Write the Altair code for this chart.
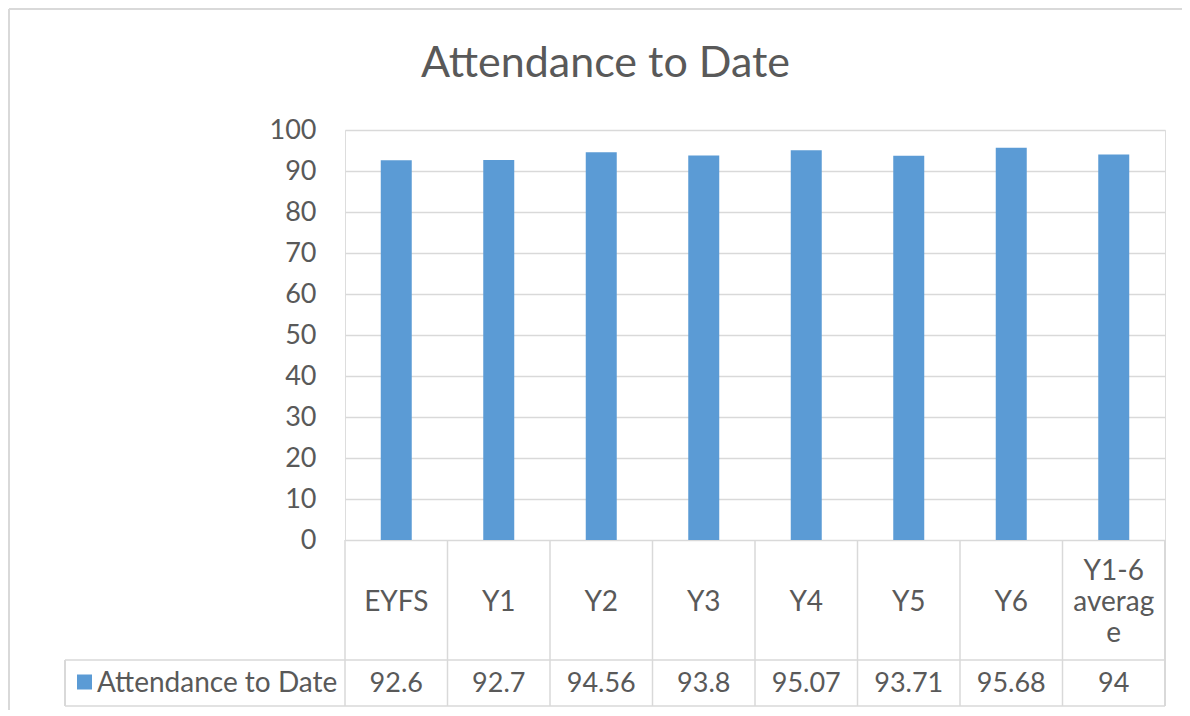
import altair as alt
import pandas as pd

title_text = "Attendance to Date"
categories = ["EYFS", "Y1", "Y2", "Y3", "Y4", "Y5", "Y6", "Y1-6 average"]
cell_labels = ["EYFS", "Y1", "Y2", "Y3", "Y4", "Y5", "Y6", "Y1-6\naverag\ne"]
values = [92.6, 92.7, 94.56, 93.8, 95.07, 93.71, 95.68, 94]
series_name = "Attendance to Date"
y_ticks = [0, 10, 20, 30, 40, 50, 60, 70, 80, 90, 100]

df = pd.DataFrame({
    "cat": categories,
    "label": cell_labels,
    "value": values,
    "vtext": [f"{v:g}" for v in values],
})

FONT = "Lato"
TXT = "#595959"
GRID = "#d9d9d9"
BAR = "#5B9BD5"
FS = 28
NFS = 27

W, H = 820, 410

xenc = alt.X("cat:N", sort=categories, axis=None,
             scale=alt.Scale(paddingInner=0, paddingOuter=0))

base = alt.Chart(df)

bars = base.mark_bar(color=BAR, size=31).encode(
    x=xenc,
    y=alt.Y("value:Q",
            scale=alt.Scale(domain=[0, 100], nice=False),
            axis=alt.Axis(values=y_ticks, title=None, domain=False, ticks=False,
                          labelFont=FONT, labelFontSize=NFS, labelColor=TXT,
                          labelPadding=29, gridColor=GRID, gridWidth=1.5,
                          labelBaseline="middle")),
)

# table vertical lines at category boundaries
vlines = base.mark_rule(color=GRID, strokeWidth=1.5).encode(
    x=alt.X("cat:N", sort=categories, axis=None, bandPosition=0,
            scale=alt.Scale(paddingInner=0, paddingOuter=0)),
    y=alt.value(H), y2=alt.value(576),
)
right_line = base.mark_rule(color=GRID, strokeWidth=1.5).encode(
    x=alt.value(W), y=alt.value(H), y2=alt.value(576),
)
left_line = base.mark_rule(color=GRID, strokeWidth=1.5).encode(
    x=alt.value(-280), y=alt.value(530), y2=alt.value(576),
)
hlines = alt.Chart(pd.DataFrame({"yy": [530, 576]})).mark_rule(
    color=GRID, strokeWidth=1.5).encode(
    y=alt.Y("yy:Q", scale=None), x=alt.value(-280), x2=alt.value(W),
)
border_top = base.mark_rule(color=GRID, strokeWidth=2).encode(
    y=alt.value(-121), x=alt.value(-336), x2=alt.value(W + 30),
)
border_left = base.mark_rule(color=GRID, strokeWidth=2).encode(
    x=alt.value(-336), y=alt.value(-121), y2=alt.value(600),
)

# category cells: multi-line labels are centred vertically in the cell
cat_text = base.transform_calculate(
    nl="length(split(datum.label, '\\n'))",
    ty="473 - (datum.nl - 1) * 15.5",
).mark_text(font=FONT, fontSize=FS, color=TXT, lineBreak="\n",
            lineHeight=31, baseline="middle", align="center").encode(
    x=xenc, y=alt.Y("ty:Q", scale=None, axis=None), text="label:N",
)
val_text = base.mark_text(font=FONT, fontSize=NFS, color=TXT,
                          baseline="middle", align="center").encode(
    x=xenc, y=alt.value(554), text="vtext:N",
)
legend_sq = alt.Chart(pd.DataFrame({"s": [series_name]})).mark_square(
    color=BAR, size=225, opacity=1).encode(
    x=alt.value(-260.5), y=alt.value(552),
)
legend_txt = alt.Chart(pd.DataFrame({"s": [series_name]})).mark_text(
    font=FONT, fontSize=FS, color=TXT, align="left", baseline="middle").encode(
    x=alt.value(-248), y=alt.value(554), text="s:N",
)
title_mark = alt.Chart(pd.DataFrame({"t": [title_text]})).mark_text(
    font=FONT, fontSize=43, color=TXT, align="center",
    baseline="alphabetic").encode(
    x=alt.value(260.5), y=alt.value(-53), text="t:N",
)

chart = alt.layer(
    bars, vlines, right_line, left_line, hlines, border_top, border_left,
    cat_text, val_text, legend_sq, legend_txt, title_mark,
).properties(
    width=W, height=H,
    padding={"left": 337, "top": 122, "right": 17, "bottom": 170},
    autosize=alt.AutoSizeParams(type="none"),
).configure_view(stroke=None).configure(background="white")

chart.save("out.html", embed_options={"renderer": "svg", "actions": False})
